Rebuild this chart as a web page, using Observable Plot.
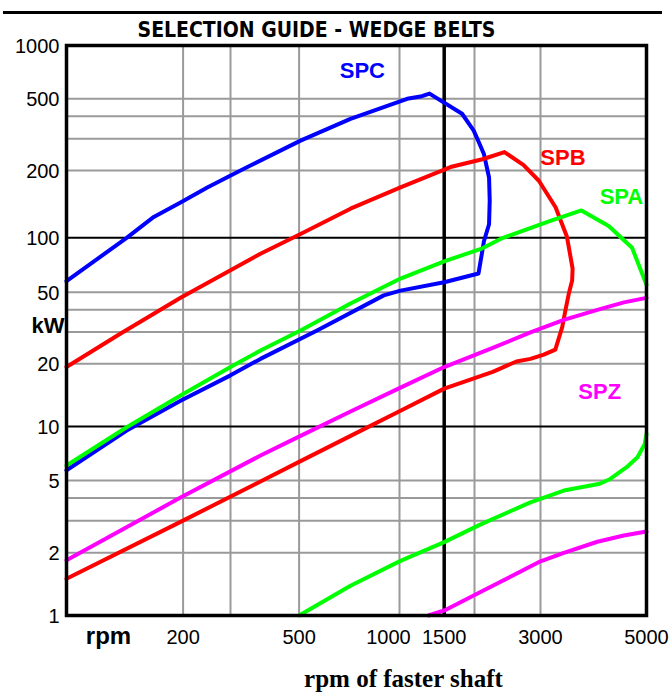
<!DOCTYPE html>
<html>
<head>
<meta charset="utf-8">
<script src="https://cdn.jsdelivr.net/npm/d3@7"></script>
<script src="https://cdn.jsdelivr.net/npm/@observablehq/plot@0.6"></script>
<style>
  body { margin: 0; background: #fff; }
  #wrap { position: relative; width: 669px; height: 694px; }
  #rule { position: absolute; left: 3px; top: 11px; width: 659px; height: 3px; background: #000; }
</style>
</head>
<body>
<div id="wrap"><div id="rule"></div><div id="chart"></div></div>
<script>
// ---- axis breakpoints / ticks ----
const xBreaks = [100, 200, 300, 500, 1000, 1500, 2000, 3000, 5000];
const yBreaks = [1, 2, 5, 10, 20, 50, 100, 200, 500, 1000];
const xTickLabels = [200, 500, 1500, 3000, 5000];
const xTickShifted = [1000];
const yTickLabels = [1, 2, 5, 10, 20, 50, 100, 200, 500, 1000];
const gridXGray = [200, 300, 500, 1000, 2000, 3000];
const gridXBlack = [1500];
const gridYGray = [2, 3, 4, 5, 20, 30, 40, 50, 200, 300, 400, 500];
const gridYBlack = [10, 100];

// ---- series (rpm, kW) ----
const spcRpm = [100,143,168,197,246,307,348,505,713,897,1072,1210,1313,1777,1985,2057,2120,2187,2196,2187,2120,2050,1500,1009,897,566,375,300,197,143,100];
const spcKw  = [57.5,100,124,144,168,193,213,293,387,449,500,515,535,413,333,285,246,186,147,115,96,63.5,56.8,51,48,30.6,21.3,17.6,13.3,9.5,5.7];

const spbRpm = [100,138,197,375,505,713,1009,1592,2100,2404,2700,2970,3226,3408,3502,3494,3438,3385,3331,3222,3048,2820,2588,2237,1500,1009,764,505,375,197,100];
const spbKw  = [19.3,29.5,46.6,81.6,104,135,168,209,231,253,215,180,137,101,67.6,58,49,40,32,24,22.5,21.3,20.6,18.3,15.2,11.9,9.45,6.41,4.94,2.96,1.5];

const spaRpm = [100,143,197,300,375,505,713,1009,1500,2100,2374,3146,3654,4167,4664,5000];
const spaKw  = [6.06,9.9,14.1,19.3,23.7,30.6,43.3,59.5,74,87.5,99.7,119,132.5,113,88,55];

const spaLoRpm = [500,713,1009,1500,2057,2820,3357,3991,4199,4543,4788,4958,5000];
const spaLoKw  = [1,1.39,1.83,2.29,2.84,3.79,4.4,4.8,5.1,5.93,6.74,8.0,9.1];

const spzRpm = [100,197,375,505,713,1009,1500,2237,2820,3357,3946,4484,5000];
const spzKw  = [1.84,4.03,6.89,8.87,11.8,15.36,19.3,24.5,29.9,35.1,39.9,43.9,46.5];

const spzLoRpm = [1301,1510,2100,3000,3357,3946,4484,5000];
const spzLoKw  = [1,1.06,1.31,1.82,2.0,2.3,2.49,2.62];

// ---- curve labels ----
const labelNames = ["SPC", "SPB", "SPA", "SPZ"];
const labelRpm = [774, 3343, 4431, 3991];
const labelKw = [722, 236, 153, 14.6];

const colors = {SPC: "#0000ff", SPB: "#ff0000", SPA: "#00ff00", SPZ: "#ff00ff"};

const segments = [
  {name: "SPC", rpm: spcRpm, kw: spcKw},
  {name: "SPB", rpm: spbRpm, kw: spbKw},
  {name: "SPA", rpm: spaRpm, kw: spaKw},
  {name: "SPA", rpm: spaLoRpm, kw: spaLoKw},
  {name: "SPZ", rpm: spzRpm, kw: spzKw},
  {name: "SPZ", rpm: spzLoRpm, kw: spzLoKw}
];
const labels = labelNames.map((n, i) => ({name: n, rpm: labelRpm[i], kw: labelKw[i]}));

const sans = "'Liberation Sans', Arial, sans-serif";
const narrow = "'Liberation Sans Narrow', 'Arial Narrow', 'DejaVu Sans Condensed', sans-serif";

const chart = Plot.plot({
  width: 669,
  height: 694,
  marginLeft: 66,
  marginRight: 23,
  marginTop: 45,
  marginBottom: 79,
  style: {fontFamily: sans, background: "white", color: "black"},
  x: {type: "log", domain: xBreaks, range: [66, 182.6, 230, 298.6, 399, 443.7, 474, 540, 646], axis: null},
  y: {type: "log", domain: yBreaks, range: [615, 552.3, 480, 426, 363.3, 291.7, 237.3, 170, 98.3, 45], axis: null},
  marks: [
    Plot.ruleX(gridXGray, {x: d => d, stroke: "#9a9a9a", strokeWidth: 2}),
    Plot.ruleY(gridYGray, {y: d => d, stroke: "#9a9a9a", strokeWidth: 2}),
    Plot.ruleY(gridYBlack, {y: d => d, stroke: "black", strokeWidth: 2}),
    Plot.ruleX(gridXBlack, {x: d => d, stroke: "black", strokeWidth: 3.5}),
    ...segments.map(s => Plot.line(s.rpm.map((r, i) => ({rpm: r, kw: s.kw[i]})), {
      x: "rpm", y: "kw", stroke: colors[s.name], strokeWidth: 4, strokeLinejoin: "round", strokeLinecap: "round"
    })),
    Plot.frame({stroke: "black", strokeWidth: 3.5}),
    Plot.text(labels, {x: "rpm", y: "kw", text: "name", fill: d => colors[d.name], fontWeight: "bold", fontSize: 22, fontFamily: sans}),
    // y tick labels
    Plot.text(yTickLabels, {y: d => d, text: d => String(d), frameAnchor: "left", textAnchor: "end", lineAnchor: "middle", dx: -7, dy: 1, fontSize: 20}),
    // x tick labels
    Plot.text(xTickLabels, {x: d => d, text: d => String(d), frameAnchor: "bottom", lineAnchor: "middle", dy: 22, fontSize: 20}),
    Plot.text(xTickShifted, {x: d => d, text: d => String(d), frameAnchor: "bottom", lineAnchor: "middle", dx: -11, dy: 22, fontSize: 20}),
    // axis words
    Plot.text(["kW"], {text: d => d, frameAnchor: "left", lineAnchor: "middle", dx: -35, dy: -5, fontWeight: "bold", fontSize: 22}),
    Plot.text(["rpm"], {text: d => d, frameAnchor: "bottom-left", textAnchor: "middle", lineAnchor: "middle", dx: 42, dy: 21, fontWeight: "bold", fontSize: 24}),
    Plot.text(["rpm of faster shaft"], {text: d => d, frameAnchor: "bottom", lineAnchor: "middle", dx: 47, dy: 63, fontWeight: "bold", fontSize: 25, fontFamily: "'Liberation Serif', 'Times New Roman', serif"}),
    // title
    Plot.text(["SELECTION GUIDE - WEDGE BELTS"], {text: d => d, frameAnchor: "top", lineAnchor: "middle", dx: -40, dy: -15, fontWeight: "bold", fontSize: 21, fontFamily: narrow})
  ]
});
document.getElementById("chart").appendChild(chart);
</script>
</body>
</html>
